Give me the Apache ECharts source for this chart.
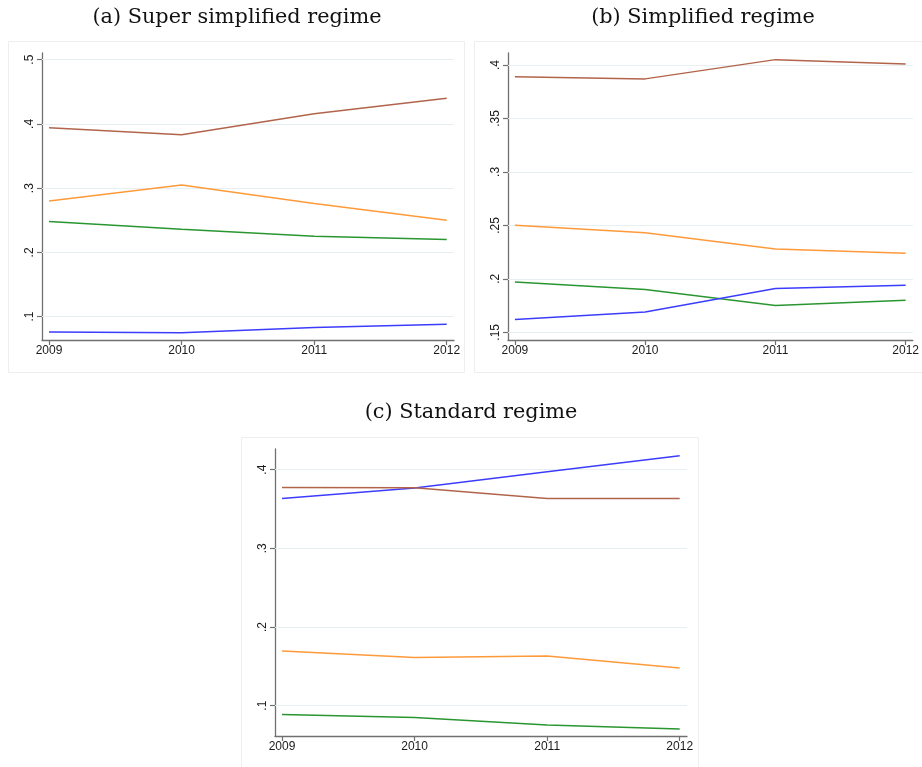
<!DOCTYPE html>
<html>
<head>
<meta charset="utf-8">
<title>Regimes</title>
<script src="https://cdn.jsdelivr.net/npm/echarts@6/dist/echarts.min.js"></script>
<style>
  html, body { margin: 0; padding: 0; background: #fff; }
  #chart { width: 922px; height: 767px; }
</style>
</head>
<body>
<div id="chart"></div>
<script>
// years on the x axis
var years = [2009, 2010, 2011, 2012];

// (a) Super simplified regime
var superBrown  = [0.394, 0.383, 0.416, 0.440];
var superOrange = [0.280, 0.305, 0.276, 0.250];
var superGreen  = [0.248, 0.236, 0.225, 0.220];
var superBlue   = [0.076, 0.075, 0.083, 0.088];
var superTicks  = [0.1, 0.2, 0.3, 0.4, 0.5];

// (b) Simplified regime
var simpBrown  = [0.389, 0.387, 0.405, 0.401];
var simpOrange = [0.250, 0.243, 0.228, 0.224];
var simpGreen  = [0.197, 0.190, 0.175, 0.180];
var simpBlue   = [0.162, 0.169, 0.191, 0.194];
var simpTicks  = [0.15, 0.2, 0.25, 0.3, 0.35, 0.4];

// (c) Standard regime
var stdBlue   = [0.3635, 0.3767, 0.3975, 0.4178];
var stdBrown  = [0.3775, 0.3771, 0.3635, 0.3635];
var stdOrange = [0.1696, 0.1611, 0.1632, 0.1480];
var stdGreen  = [0.0886, 0.0849, 0.0754, 0.0703];
var stdTicks  = [0.1, 0.2, 0.3, 0.4];

var titles = ["(a) Super simplified regime", "(b) Simplified regime", "(c) Standard regime"];

var colors = {
    brown: "#b2644b",
    orange: "#ff9a3a",
    green: "#2a9630",
    blue: "#3c3cff"
};

// stata-ish axis extents (axis runs a bit past first/last tick)
var panels = [
    { grid: { left: 42, top: 53, width: 412, height: 287 }, y: [0.0636, 0.5104], x: [2008.947, 2012.055], ticks: superTicks,
      lines: [["brown", superBrown], ["orange", superOrange], ["green", superGreen], ["blue", superBlue]] },
    { grid: { left: 508, top: 53, width: 412, height: 287 }, y: [0.1428, 0.4112], x: [2008.947, 2012.055], ticks: simpTicks,
      lines: [["brown", simpBrown], ["orange", simpOrange], ["green", simpGreen], ["blue", simpBlue]] },
    { grid: { left: 275, top: 449, width: 412, height: 287 }, y: [0.0614, 0.4263], x: [2008.947, 2012.055], ticks: stdTicks,
      lines: [["blue", stdBlue], ["brown", stdBrown], ["orange", stdOrange], ["green", stdGreen]] }
];

function fmtTick(v) {
    // .5 style labels, no leading zero
    var s = String(Math.round(v * 100) / 100);
    return s.replace(/^0\./, ".");
}

var grids = [], xAxes = [], yAxes = [], series = [];

panels.forEach(function(p, i) {
    grids.push(p.grid);
    xAxes.push({
        type: "value",
        gridIndex: i,
        min: p.x[0],
        max: p.x[1],
        axisLine: { lineStyle: { color: "#707070", width: 1.3 } },
        axisTick: { show: true, customValues: years, length: 5, lineStyle: { color: "#707070", width: 1.2 } },
        axisLabel: {
            customValues: years,
            margin: 5,
            color: "#1a1a1a",
            fontFamily: "Liberation Sans",
            fontSize: 12,
            formatter: function(v) { return String(v); }
        },
        splitLine: { show: false }
    });
    yAxes.push({
        type: "value",
        gridIndex: i,
        min: p.y[0],
        max: p.y[1],
        axisLine: { show: true, lineStyle: { color: "#707070", width: 1.3 } },
        axisTick: { show: true, customValues: p.ticks, length: 5, lineStyle: { color: "#707070", width: 1.2 } },
        axisLabel: {
            customValues: p.ticks,
            rotate: 90,
            margin: 6,
            color: "#1a1a1a",
            fontFamily: "Liberation Sans",
            fontSize: 12,
            formatter: fmtTick
        },
        splitLine: { show: false }
    });
    // light gridlines at the labelled ticks
    series.push({
        type: "line",
        xAxisIndex: i,
        yAxisIndex: i,
        data: [],
        silent: true,
        z: 1,
        markLine: {
            silent: true,
            symbol: "none",
            z: 1,
            label: { show: false },
            lineStyle: { color: "#e6f0f2", width: 1.2, type: "solid" },
            data: p.ticks.map(function(t) { return { yAxis: t }; })
        }
    });
    p.lines.forEach(function(l) {
        series.push({
            name: l[0],
            type: "line",
            xAxisIndex: i,
            yAxisIndex: i,
            z: 5,
            showSymbol: false,
            animation: false,
            lineStyle: { color: colors[l[0]], width: 1.5 },
            itemStyle: { color: colors[l[0]] },
            data: years.map(function(y, k) { return [y, l[1][k]]; })
        });
    });
});

var option = {
    animation: false,
    backgroundColor: "#fff",
    title: [
        { text: titles[0], left: 232, top: 2, textAlign: "center" },
        { text: titles[1], left: 698, top: 2, textAlign: "center" },
        { text: titles[2], left: 466, top: 397, textAlign: "center" }
    ].map(function(t) {
        t.textStyle = { fontFamily: "DejaVu Serif", fontWeight: "normal", fontSize: 20.8, color: "#111" };
        return t;
    }),
    graphic: [
        { type: "rect", shape: { x: 8.5, y: 41.5, width: 456, height: 331 }, style: { fill: "none", stroke: "#eeeeee", lineWidth: 1 }, silent: true },
        { type: "rect", shape: { x: 474.5, y: 41.5, width: 460, height: 331 }, style: { fill: "none", stroke: "#eeeeee", lineWidth: 1 }, silent: true },
        { type: "rect", shape: { x: 241.5, y: 437.5, width: 457, height: 340 }, style: { fill: "none", stroke: "#eeeeee", lineWidth: 1 }, silent: true }
    ],
    grid: grids,
    xAxis: xAxes,
    yAxis: yAxes,
    series: series
};

var chart = echarts.init(document.getElementById("chart"));
chart.setOption(option);
</script>
</body>
</html>
